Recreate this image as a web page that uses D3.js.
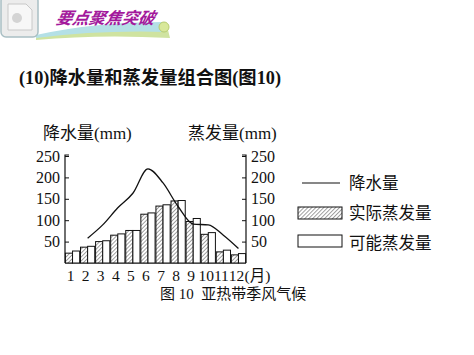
<!DOCTYPE html>
<html>
<head>
<meta charset="utf-8">
<script src="https://cdn.jsdelivr.net/npm/d3@7"></script>
<style>
  html, body { margin: 0; padding: 0; background: #fff; }
  svg { display: block; }
</style>
</head>
<body>
<div id="chart"></div>
<script>
// dados
const meses = [1, 2, 3, 4, 5, 6, 7, 8, 9, 10, 11, 12];
const evapReal = [23, 37, 50, 65, 76, 114, 133, 145, 97, 67, 26, 19];
const evapPotencial = [28, 39, 52, 68, 76, 117, 136, 146, 104, 71, 30, 22];
const precipMeses = [2, 3, 4, 5, 6, 7, 8, 9, 10, 11, 12];
const precip = [58, 89, 129, 163, 220, 187, 132, 91, 89, 65, 34];
const ticksY = [50, 100, 150, 200, 250];
const legenda = ["降水量", "实际蒸发量", "可能蒸发量"];

const width = 474, height = 355;
const serif = "'Liberation Serif', 'Noto Sans CJK SC', serif";
const cjk = "'Noto Sans CJK SC', sans-serif";

const svg = d3.select("#chart").append("svg")
  .attr("width", width)
  .attr("height", height);

const defs = svg.append("defs");
const hatch = defs.append("pattern")
  .attr("id", "hatch")
  .attr("patternUnits", "userSpaceOnUse")
  .attr("width", 2.8)
  .attr("height", 2.8)
  .attr("patternTransform", "rotate(45)");
hatch.append("rect").attr("width", 2.8).attr("height", 2.8).attr("fill", "#fff");
hatch.append("line")
  .attr("x1", 0).attr("y1", 0).attr("x2", 0).attr("y2", 2.8)
  .attr("stroke", "#444").attr("stroke-width", 1);

// Cabeçalho (banner)
const banner = svg.append("g");
banner.append("path")
  .attr("d", "M36,36 Q90,26 168,30 L170,38 Q100,34 36,40 Z")
  .attr("fill", "#cfe3a0");
banner.append("path")
  .attr("d", "M36,35 Q95,22 165,22 L166,32 Q100,30 36,38 Z")
  .attr("fill", "#b4e0e6");
banner.append("circle")
  .attr("cx", 164).attr("cy", 27).attr("r", 5)
  .attr("fill", "#d8e89a").attr("stroke", "#b8cc70");
banner.append("rect")
  .attr("x", 1).attr("y", -4).attr("width", 37).attr("height", 41).attr("rx", 5)
  .attr("fill", "#ececec").attr("stroke", "#a9bfc4").attr("stroke-width", 1.5);
banner.append("path")
  .attr("d", "M8,4 L26,4 L32,10 L32,30 L8,30 Z")
  .attr("fill", "#f7f7f7").attr("stroke", "#c8c8c8");
banner.append("circle")
  .attr("cx", 17).attr("cy", 18).attr("r", 5)
  .attr("fill", "#d4d4d4");
banner.append("text")
  .attr("x", 56).attr("y", 24)
  .attr("font-family", cjk)
  .attr("font-size", 16.5)
  .attr("font-weight", "bold")
  .attr("font-style", "italic")
  .attr("fill", "#a3199c")
  .attr("transform", "skewX(-12) translate(4,0)")
  .text("要点聚焦突破");

// Título
svg.append("text")
  .attr("x", 19).attr("y", 84)
  .attr("font-family", serif)
  .attr("font-size", 18.3)
  .attr("font-weight", "bold")
  .attr("fill", "#111")
  .text("(10)降水量和蒸发量组合图(图10)");

// Escalas
const xLeft = 65, xRight = 246;
const yTop = 156, yBase = 263;

const xScale = d3.scaleBand()
  .domain(meses)
  .range([xLeft, xRight]);

const xSub = d3.scaleBand()
  .domain(["real", "pot"])
  .range([0, xScale.bandwidth()])
  .paddingOuter(0.06);

const yScale = d3.scaleLinear()
  .domain([0, 250])
  .range([yBase, yTop]);

// Eixos
const eixoEsq = svg.append("g")
  .attr("transform", `translate(${xLeft},0)`)
  .call(d3.axisLeft(yScale).tickValues(ticksY).tickSize(-4).tickPadding(5).tickSizeOuter(0));
const eixoDir = svg.append("g")
  .attr("transform", `translate(${xRight},0)`)
  .call(d3.axisRight(yScale).tickValues(ticksY).tickSize(-4).tickPadding(5).tickSizeOuter(0));

[eixoEsq, eixoDir].forEach(g => {
  g.select(".domain").attr("stroke", "#111").attr("stroke-width", 1.2);
  g.selectAll(".tick line").attr("stroke", "#111");
  g.selectAll(".tick text")
    .attr("font-family", serif)
    .attr("font-size", 16)
    .attr("fill", "#111");
});
eixoEsq.select(".domain").attr("d", `M0,${yBase}V${yTop - 1}h4`);
eixoDir.select(".domain").attr("d", `M0,${yBase}V${yTop - 1}h-4`);

// linha de base
svg.append("line")
  .attr("x1", xLeft).attr("x2", xRight)
  .attr("y1", yBase).attr("y2", yBase)
  .attr("stroke", "#111").attr("stroke-width", 1.2);

// Títulos dos eixos
svg.append("text")
  .attr("x", 43).attr("y", 139)
  .attr("font-family", serif)
  .attr("font-size", 17)
  .attr("fill", "#111")
  .text("降水量(mm)");
svg.append("text")
  .attr("x", 188).attr("y", 139)
  .attr("font-family", serif)
  .attr("font-size", 17)
  .attr("fill", "#111")
  .text("蒸发量(mm)");

// Barras
const grupos = svg.append("g")
  .selectAll("g")
  .data(meses)
  .join("g")
  .attr("transform", d => `translate(${xScale(d)},0)`);

grupos.append("rect")
  .attr("x", xSub("real"))
  .attr("width", xSub.bandwidth())
  .attr("y", (d, i) => yScale(evapReal[i]))
  .attr("height", (d, i) => yBase - yScale(evapReal[i]))
  .attr("fill", "url(#hatch)")
  .attr("stroke", "#111")
  .attr("stroke-width", 1);

grupos.append("rect")
  .attr("x", xSub("pot"))
  .attr("width", xSub.bandwidth())
  .attr("y", (d, i) => yScale(evapPotencial[i]))
  .attr("height", (d, i) => yBase - yScale(evapPotencial[i]))
  .attr("fill", "#fff")
  .attr("stroke", "#111")
  .attr("stroke-width", 1);

// Linha de precipitação
const linha = d3.line()
  .x((d, i) => xScale(precipMeses[i]) + xScale.bandwidth() / 2)
  .y(d => yScale(d))
  .curve(d3.curveMonotoneX);

svg.append("path")
  .datum(precip)
  .attr("fill", "none")
  .attr("stroke", "#111")
  .attr("stroke-width", 1.3)
  .attr("d", linha);

// Rótulos do eixo X
svg.append("g")
  .selectAll("text")
  .data(meses)
  .join("text")
  .attr("x", d => xScale(d) + xScale.bandwidth() / 2 - 2)
  .attr("y", 281)
  .attr("text-anchor", "middle")
  .attr("font-family", serif)
  .attr("font-size", 15.5)
  .attr("fill", "#111")
  .text(d => d);
svg.append("text")
  .attr("x", 244.5).attr("y", 281)
  .attr("font-family", serif)
  .attr("font-size", 15.5)
  .attr("fill", "#111")
  .text("(月)");

// Legenda
const leg = svg.append("g");
leg.append("line")
  .attr("x1", 302).attr("x2", 340)
  .attr("y1", 183).attr("y2", 183)
  .attr("stroke", "#111").attr("stroke-width", 1.2);
leg.append("rect")
  .attr("x", 298).attr("y", 207).attr("width", 44).attr("height", 12)
  .attr("fill", "url(#hatch)").attr("stroke", "#111");
leg.append("rect")
  .attr("x", 298).attr("y", 235).attr("width", 44).attr("height", 12)
  .attr("fill", "#fff").attr("stroke", "#111");
leg.selectAll("text.leg")
  .data(legenda)
  .join("text")
  .attr("class", "leg")
  .attr("x", 349)
  .attr("y", (d, i) => 189 + i * 30)
  .attr("font-family", cjk)
  .attr("font-size", 16.5)
  .attr("fill", "#111")
  .text(d => d);

// Legenda da figura
svg.append("text")
  .attr("x", 160).attr("y", 299)
  .attr("font-family", serif)
  .attr("font-size", 15)
  .attr("fill", "#111")
  .attr("xml:space", "preserve")
  .text("图 10  亚热带季风气候");
</script>
</body>
</html>
